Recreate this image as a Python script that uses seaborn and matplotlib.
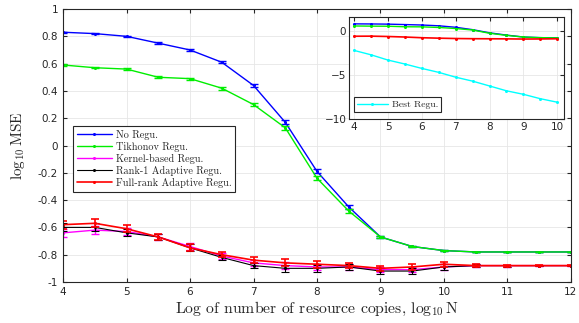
import numpy as np
import pandas as pd
import matplotlib
matplotlib.use("Agg")
import matplotlib.pyplot as plt
import seaborn as sns

# log10 N grid
x_main = [4, 4.5, 5, 5.5, 6, 6.5, 7, 7.5, 8, 8.5, 9, 9.5, 10, 10.5, 11, 11.5, 12]

no_regu = [0.83, 0.82, 0.80, 0.75, 0.70, 0.61, 0.44, 0.17, -0.19, -0.45, -0.67, -0.74,
           -0.77, -0.78, -0.78, -0.78, -0.78]
no_regu_err = [0.005, 0.005, 0.006, 0.006, 0.007, 0.008, 0.012, 0.015, 0.015, 0.015, 0.008,
               0.005, 0.004, 0.003, 0.003, 0.003, 0.003]
tikhonov = [0.59, 0.57, 0.56, 0.50, 0.49, 0.42, 0.30, 0.13, -0.24, -0.48, -0.67, -0.74,
            -0.77, -0.78, -0.78, -0.78, -0.78]
tikhonov_err = [0.005, 0.005, 0.006, 0.008, 0.008, 0.010, 0.012, 0.015, 0.015, 0.015, 0.008,
                0.005, 0.004, 0.003, 0.003, 0.003, 0.003]
kernel = [-0.64, -0.62, -0.63, -0.67, -0.74, -0.81, -0.86, -0.88, -0.89, -0.89, -0.91, -0.91,
          -0.89, -0.88, -0.88, -0.88, -0.88]
rank1 = [-0.60, -0.60, -0.64, -0.67, -0.75, -0.82, -0.88, -0.90, -0.90, -0.89, -0.92, -0.92,
         -0.89, -0.88, -0.88, -0.88, -0.88]
fullrank = [-0.58, -0.57, -0.61, -0.67, -0.75, -0.80, -0.84, -0.86, -0.87, -0.88, -0.90, -0.89,
            -0.87, -0.88, -0.88, -0.88, -0.88]
low_err = [0.03, 0.03, 0.025, 0.02, 0.025, 0.02, 0.02, 0.025, 0.025, 0.02, 0.02, 0.02,
           0.02, 0.01, 0.008, 0.005, 0.005]

# inset: best regularisation
x_inset = [4, 4.5, 5, 5.5, 6, 6.5, 7, 7.5, 8, 8.5, 9, 9.5, 10]
best_regu = [-2.2, -2.7, -3.3, -3.75, -4.25, -4.7, -5.25, -5.7, -6.25, -6.8, -7.2, -7.7, -8.1]

x_ticks = [4, 5, 6, 7, 8, 9, 10, 11, 12]
y_ticks = [-1, -0.8, -0.6, -0.4, -0.2, 0, 0.2, 0.4, 0.6, 0.8, 1]

series = [
    ("No Regu.", no_regu, no_regu_err, "#0000ff", 1.0),
    ("Tikhonov Regu.", tikhonov, tikhonov_err, "#00ee00", 1.0),
    ("Kernel-based Regu.", kernel, low_err, "#ff00ff", 1.0),
    ("Rank-1 Adaptive Regu.", rank1, low_err, "#000000", 0.8),
    ("Full-rank Adaptive Regu.", fullrank, low_err, "#ff0000", 1.2),
]

sns.set_style("whitegrid")
plt.rcParams["font.family"] = ["DejaVu Sans"]
plt.rcParams["mathtext.fontset"] = "cm"
serif = "cmr10"

fig = plt.figure(figsize=(5.79, 3.23), dpi=100)
ax = fig.add_axes([0.109, 0.127, 0.877, 0.845])

for name, y, err, col, lw in series:
    df = pd.DataFrame({"x": x_main, "y": y})
    sns.lineplot(data=df, x="x", y="y", ax=ax, color=col, lw=lw, marker="o", markersize=2.2,
                 markeredgewidth=0, label=name)
    ax.errorbar(x_main, y, yerr=err, fmt="none", ecolor=col, elinewidth=lw, capsize=3,
                capthick=lw)

ax.set_xlim(4, 12)
ax.set_ylim(-1, 1)
ax.set_xticks(x_ticks)
ax.set_yticks(y_ticks)
ax.set_yticklabels(["-1", "-0.8", "-0.6", "-0.4", "-0.2", "0", "0.2", "0.4", "0.6", "0.8", "1"])
ax.tick_params(labelsize=7.5, colors="#262626", direction="in", length=3,
               top=True, right=True, bottom=True, left=True)
ax.grid(color="#e6e6e6", lw=0.6)
for s in ax.spines.values():
    s.set_color("#262626")
    s.set_linewidth(0.8)
ax.set_xlabel(r"Log of number of resource copies, $\log_{10}$N", fontfamily=serif, fontsize=11.3,
              color="#262626", labelpad=2)
ax.set_ylabel(r"$\log_{10}$MSE", fontfamily=serif, fontsize=11, color="#262626", labelpad=8)

leg = ax.legend(loc="upper left", bbox_to_anchor=(0.01, 0.59), frameon=True,
                fancybox=False, edgecolor="#262626", framealpha=1, handlelength=3.4,
                borderpad=0.35, labelspacing=0.2, handletextpad=0.4,
                prop={"family": serif, "size": 7.4})
leg.get_frame().set_linewidth(0.8)

# inset
axi = fig.add_axes([0.603, 0.632, 0.371, 0.315])
for name, y, err, col, lw in [series[0], series[1], series[4]]:
    df = pd.DataFrame({"x": x_main[:13], "y": y[:13]})
    sns.lineplot(data=df, x="x", y="y", ax=axi, color=col, lw=lw, marker="o", markersize=2.2,
                 markeredgewidth=0, legend=False)
dfb = pd.DataFrame({"x": x_inset, "y": best_regu})
sns.lineplot(data=dfb, x="x", y="y", ax=axi, color="#00ffff", lw=1.0, marker="o",
             markersize=2.2, markeredgewidth=0, label="Best Regu.")
axi.set_xlim(3.85, 10.2)
axi.set_ylim(-10, 1.6)
axi.set_xticks([4, 5, 6, 7, 8, 9, 10])
axi.set_yticks([-10, -5, 0])
axi.set_xlabel("")
axi.set_ylabel("")
axi.tick_params(labelsize=7.5, colors="#262626", direction="in", length=3,
                top=True, right=True, pad=2)
axi.grid(color="#e6e6e6", lw=0.6)
for s in axi.spines.values():
    s.set_color("#262626")
    s.set_linewidth(0.8)
li = axi.legend(loc="lower left", bbox_to_anchor=(0.0, 0.02), frameon=True,
                fancybox=False, edgecolor="#262626", framealpha=1, handlelength=3.2,
                borderpad=0.3, handletextpad=0.4, prop={"family": serif, "size": 7})
li.get_frame().set_linewidth(0.8)

fig.savefig("out.png", dpi=100)
